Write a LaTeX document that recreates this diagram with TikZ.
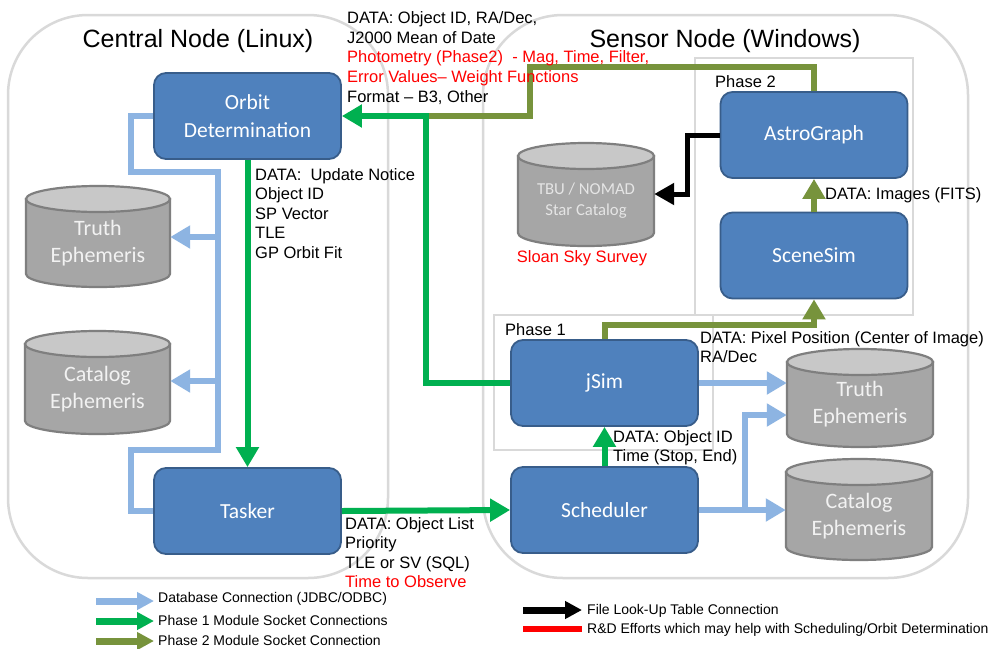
\documentclass[tikz,border=0pt]{standalone}
\usepackage{fontspec}
\setmainfont{Liberation Sans}
\newfontfamily\carlito{Carlito}
\usetikzlibrary{arrows.meta,calc}

\definecolor{modfill}{HTML}{4F81BD}
\definecolor{modborder}{HTML}{385D8A}
\definecolor{dbfill}{HTML}{A6A6A6}
\definecolor{dbtopfill}{HTML}{C8C8C8}
\definecolor{dbborder}{HTML}{7F7F7F}
\definecolor{dblink}{HTML}{8DB4E2}
\definecolor{phaseone}{HTML}{00B050}
\definecolor{phasetwo}{HTML}{77933C}
\definecolor{framegray}{HTML}{D9D9D9}
\definecolor{rdred}{HTML}{FF0000}

\tikzset{
  frame/.style={draw=framegray, line width=2.5pt},
  module/.style={draw=modborder, line width=1.8pt, fill=modfill, rounded corners=12pt,
    minimum width=187pt, minimum height=86pt, inner sep=0pt, text=white,
    font=\carlito\fontsize{21.5}{28}\selectfont, align=center},
  dbshape/.style={draw=dbborder, line width=2.2pt},
  dblabel/.style={inner sep=0pt, text=white!95!black, align=center,
    font=\carlito\fontsize{22}{27}\selectfont},
  smalldb/.style={font=\carlito\fontsize{16.7}{21}\selectfont, text=white!90!black},
  note/.style={inner sep=0pt, align=left, anchor=base west, font=\fontsize{16.5}{19.6}\selectfont},
  legendtext/.style={inner sep=0pt, anchor=base west, font=\fontsize{14}{17}\selectfont},
  title/.style={inner sep=0pt, anchor=base, font=\fontsize{25}{30}\selectfont},
  conn/.style={line width=6pt, line cap=butt},
  dbline/.style={conn, draw=dblink},
  dbarrow/.style={dbline, -{Triangle[length=20pt,width=22pt]}},
  p1arrow/.style={conn, draw=phaseone, -{Triangle[length=20pt,width=22pt]}},
  p2line/.style={conn, draw=phasetwo},
  p2arrow/.style={p2line, -{Triangle[length=20pt,width=22pt]}},
  fluarrow/.style={line width=5pt, draw=black, -{Triangle[length=20pt,width=21pt]}},
  legarrow/.style={line width=7pt, -{Triangle[length=17pt,width=17pt]}},
}

% database cylinder: [label style], name, left, top, right, bottom, label
\newcommand{\dbcyl}[7][]{%
  \pgfmathsetmacro{\dbcx}{(#3+#5)/2}%
  \pgfmathsetmacro{\dbrx}{(#5-#3)/2}%
  \pgfmathsetmacro{\dbcy}{(#4+13+#6)/2}%
  \pgfmathsetmacro{\dbh}{#6-#4-13}%
  \filldraw[dbshape, fill=dbfill] (#3,#4+13) -- (#3,#6-13)
     arc[start angle=180, end angle=360, x radius=\dbrx pt, y radius=13pt]
     -- (#5,#4+13) -- cycle;
  \filldraw[dbshape, fill=dbtopfill] (\dbcx,#4+13) ellipse[x radius=\dbrx pt, y radius=13pt];
  \node[dblabel, #1, minimum width={(#5-#3)*1pt}, minimum height=\dbh pt] (#2) at (\dbcx,\dbcy) {#7};
}

\begin{document}
\begin{tikzpicture}[x=1pt, y=-1pt]
\useasboundingbox (0,0) rectangle (992,648);
\fill[white] (0,0) rectangle (992,648);

% computer frames and phase groupings
\draw[frame, rounded corners=80pt] (8,15) rectangle (388,578);
\draw[frame, rounded corners=80pt] (483,15) rectangle (968,578);
\draw[frame] (695,58) rectangle (913,315);
\draw[frame] (494,315) rectangle (713,450);

% software modules
\node[module] (od) at (247.5,116) {Orbit\\Determination};
\node[module] (tasker) at (247.5,511) {Tasker};
\node[module] (jsim) at (604.5,383) {jSim};
\node[module] (sched) at (604.5,510) {Scheduler};
\node[module] (astro) at (814,135) {AstroGraph};
\node[module] (scene) at (814,255.5) {SceneSim};

% databases
\dbcyl{truthL}{26}{186}{170}{287}{Truth\\Ephemeris}
\dbcyl{catL}{25}{331}{170}{434}{Catalog\\Ephemeris}
\dbcyl{truthR}{787}{349}{933}{447}{Truth\\Ephemeris}
\dbcyl{catR}{786}{459}{932}{560}{Catalog\\Ephemeris}
\dbcyl[smalldb]{star}{518}{143}{654}{246}{TBU / NOMAD\\Star Catalog}

% routing points
\coordinate (lbus1) at (218,237);
\coordinate (lbus2) at (218,381);
\coordinate (rbus) at (745,510);
\coordinate (rtop) at (745,415);
\coordinate (lk) at (687,194);
\coordinate (gjoin) at (426,116);

% database connections
\draw[dbline] (od.west) -- (131,116) -- (131,172) -- (218,172) -- (218,450)
  -- (131,450) -- (131,511) -- (tasker.west);
\draw[dbarrow] (lbus1) -- (truthL.east |- lbus1);
\draw[dbarrow] (lbus2) -- (catL.east |- lbus2);
\draw[dbarrow] (jsim.east) -- (truthR.west |- jsim.east);
\draw[dbarrow] (sched.east) -- (catR.west |- sched.east);
\draw[dbarrow] (rbus) -- (rtop) -- (truthR.west |- rtop);

% phase 2 socket connections
\draw[p2line] (astro.north) -- (814,67) -- (530,67) -- (530,116) -- (gjoin);
\draw[p2arrow] (jsim.north) -- (604.5,325) -| (scene.south);
\draw[p2arrow] (scene.north) -- (astro.south);

% phase 1 socket connections
\draw[p1arrow] (od.south) -- (tasker.north);
\draw[p1arrow] (jsim.west) -| (gjoin) -- (od.east);
\draw[p1arrow] (tasker.east) -- (sched.west);
\draw[p1arrow] (sched.north) -- (jsim.south);

% file look-up
\draw[fluarrow] (astro.west) -| (lk) -- (star.east |- lk);

% titles
\node[title] (ctitle) at (198,47) {Central Node (Linux)};
\node[title] (stitle) at (725,47) {Sensor Node (Windows)};

% data annotations (anchored at the baseline of their last line)
\node[note] (odin) at (347,102)
  {DATA: Object ID, RA/Dec,\\J2000 Mean of Date\\
   \textcolor{rdred}{Photometry (Phase2)\ \ - Mag, Time, Filter,}\\
   \textcolor{rdred}{Error Values-- Weight Functions}\\Format -- B3, Other};
\node[note] (odout) at (255,258.4)
  {DATA:\ \ Update Notice\\Object ID\\SP Vector\\TLE\\GP Orbit Fit};
\node[note] (taskout) at (345,587.8)
  {DATA: Object List\\Priority\\TLE or SV (SQL)\\\textcolor{rdred}{Time to Observe}};
\node[note] (jsimout) at (700,362.6)
  {DATA: Pixel Position (Center of Image)\\RA/Dec};
\node[note] (schedout) at (613,461.6)
  {DATA: Object ID\\Time (Stop, End)};
\node[note] (sceneout) at (825,199) {DATA: Images (FITS)};
\node[note] (ph2) at (715,87) {Phase 2};
\node[note] (ph1) at (505,335) {Phase 1};
\node[note, anchor=base, text=rdred] (sloan) at (582,262) {Sloan Sky Survey};

% legend
\coordinate (la1) at (96,601);  \coordinate (lb1) at (154,601);
\coordinate (la2) at (96,621);  \coordinate (lb2) at (154,621);
\coordinate (la3) at (96,641);  \coordinate (lb3) at (154,641);
\coordinate (la4) at (523,610); \coordinate (lb4) at (582,610);
\coordinate (la5) at (523,629); \coordinate (lb5) at (582,629);
\draw[legarrow, draw=dblink] (la1) -- (lb1);
\draw[legarrow, draw=phaseone] (la2) -- (lb2);
\draw[legarrow, draw=phasetwo] (la3) -- (lb3);
\draw[legarrow, draw=black] (la4) -- (lb4);
\draw[line width=6pt, draw=rdred] (la5) -- (lb5);
\node[legendtext] (lt1) at (158,602) {Database Connection (JDBC/ODBC)};
\node[legendtext] (lt2) at (158,625) {Phase 1 Module Socket Connections};
\node[legendtext] (lt3) at (158,645) {Phase 2 Module Socket Connection};
\node[legendtext] (lt4) at (587,614) {File Look-Up Table Connection};
\node[legendtext] (lt5) at (587,633) {R\&D Efforts which may help with Scheduling/Orbit Determination};
\end{tikzpicture}
\end{document}
